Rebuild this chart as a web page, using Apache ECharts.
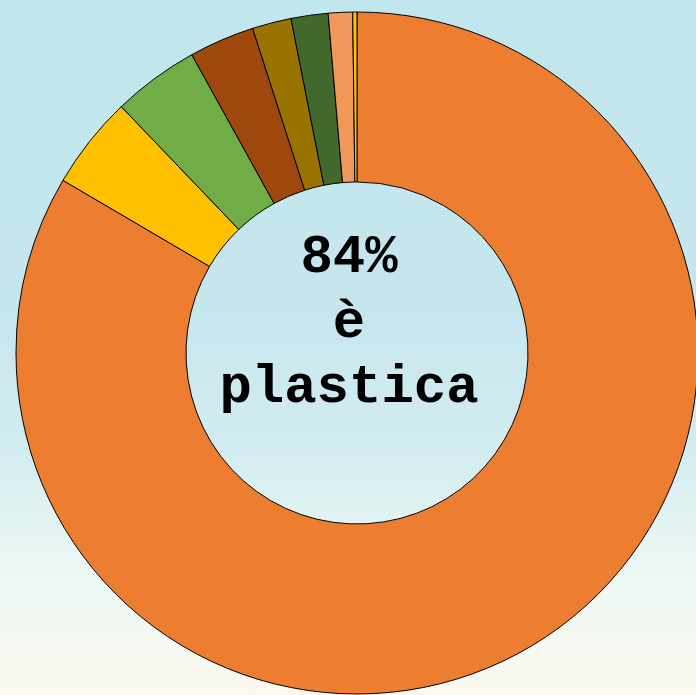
<!DOCTYPE html>
<html>
<head>
<meta charset="utf-8">
<script src="https://cdn.jsdelivr.net/npm/echarts@6/dist/echarts.min.js"></script>
<style>
  html, body {margin: 0; padding: 0;}
  #chart {
    width: 696px;
    height: 695px;
    background: linear-gradient(180deg, #c2e6ed 0%, #c6e6ee 45%, #d3edf0 65%, #ecf7f4 82%, #fbf9ef 100%);
  }
</style>
</head>
<body>
<div id="chart"></div>
<script>
// quote materiali (percentuali)
const names = ['Plastica', 'Carta', 'Vetro', 'Legno', 'Metallo', 'Gomma', 'Tessuti', 'Altro']
const values = [83.45, 4.4, 4.1, 3.1, 1.85, 1.75, 1.15, 0.2]
const colors = ['#ED7D31', '#FFC000', '#70AD47', '#9E480E', '#997300', '#43682B', '#F1975A', '#FFC000']
const centerLines = ['84%', 'è', 'plastica']

const chart = echarts.init(document.getElementById('chart'))

const data = []
names.forEach((name, i) => {
  data.push({value: values[i], name: name, itemStyle: {color: colors[i]}})
})

chart.setOption({
  backgroundColor: 'transparent',
  animation: false,
  series: [
    {
      type: 'pie',
      center: [357, 353],
      radius: [171, 341],
      startAngle: 90,
      clockwise: true,
      data: data,
      label: {show: false},
      labelLine: {show: false},
      itemStyle: {
        borderColor: '#000',
        borderWidth: 1
      },
      emphasis: {disabled: true}
    }
  ],
  graphic: [
    {
      type: 'text',
      z: 100,
      x: 349,
      y: 226,
      style: {
        text: centerLines.join('\n'),
        fill: '#000',
        font: 'bold 54px "Courier New", "Liberation Mono", monospace',
        lineHeight: 65,
        align: 'center',
        verticalAlign: 'top'
      }
    }
  ]
})
</script>
</body>
</html>
